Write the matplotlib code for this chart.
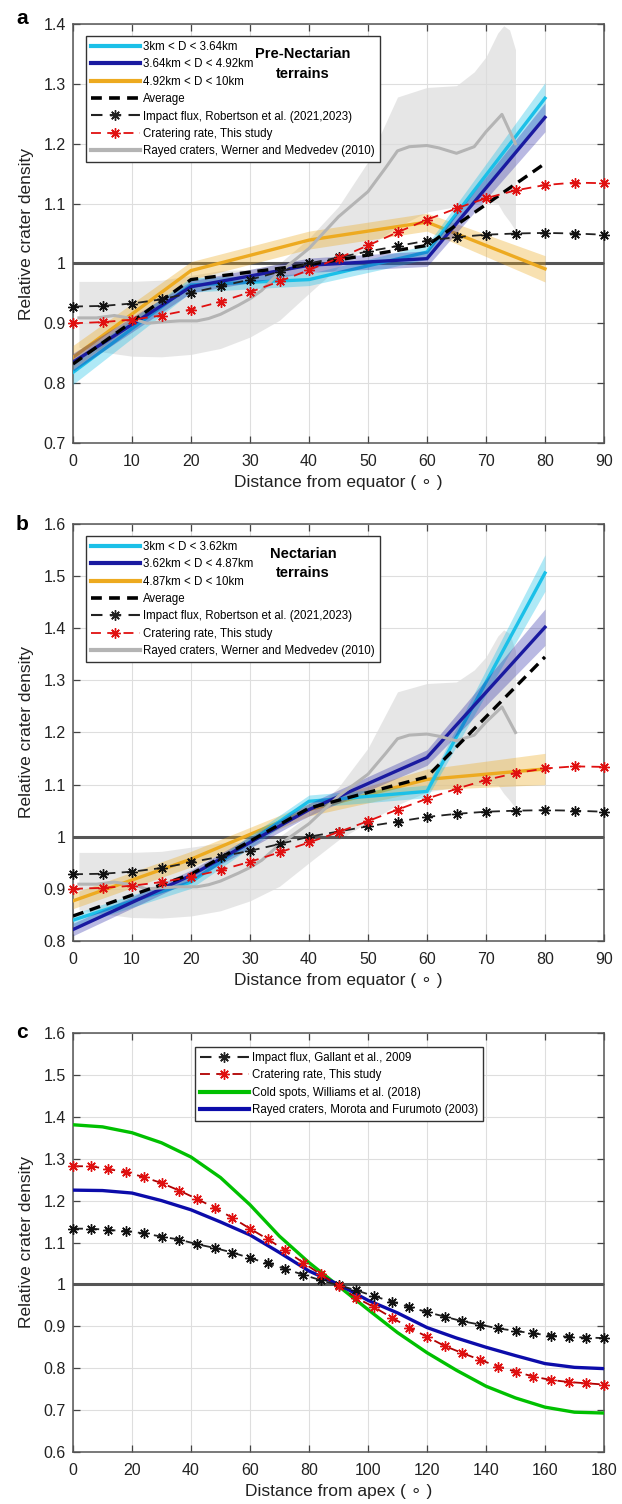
import numpy as np
import matplotlib
matplotlib.use('Agg')
import matplotlib.pyplot as plt
from matplotlib.lines import Line2D
from matplotlib.ticker import FuncFormatter

plt.rcParams['font.family'] = ['Liberation Sans', 'DejaVu Sans']

# ---------------- data ----------------
lat_bins = [0, 20, 40, 60, 80]

# panel a : Pre-Nectarian terrains
preN_small = [0.818, 0.964, 0.973, 1.019, 1.276]
preN_small_err = [0.020, 0.012, 0.010, 0.012, 0.026]
preN_mid = [0.835, 0.961, 0.997, 1.008, 1.244]
preN_mid_err = [0.015, 0.010, 0.012, 0.013, 0.024]
preN_large = [0.843, 0.988, 1.039, 1.069, 0.991]
preN_large_err = [0.020, 0.015, 0.015, 0.015, 0.022]
preN_avg = [0.832, 0.973, 0.998, 1.030, 1.167]

# panel b : Nectarian terrains
nect_small = [0.840, 0.913, 1.068, 1.087, 1.506]
nect_small_err = [0.012, 0.012, 0.012, 0.012, 0.035]
nect_mid = [0.822, 0.926, 1.052, 1.152, 1.402]
nect_mid_err = [0.012, 0.010, 0.012, 0.015, 0.035]
nect_large = [0.877, 0.957, 1.052, 1.110, 1.130]
nect_large_err = [0.015, 0.015, 0.012, 0.020, 0.030]
nect_avg = [0.848, 0.928, 1.055, 1.115, 1.345]

# model curves vs. latitude (shared by a and b)
lat_model = [0, 5, 10, 15, 20, 25, 30, 35, 40, 45, 50, 55, 60, 65, 70, 75, 80, 85, 90]
flux_robertson = [0.928, 0.929, 0.933, 0.940, 0.951, 0.962, 0.973, 0.986, 1.000, 1.010,
                  1.020, 1.029, 1.038, 1.044, 1.048, 1.050, 1.051, 1.050, 1.048]
rate_lat = [0.900, 0.902, 0.906, 0.913, 0.923, 0.936, 0.952, 0.970, 0.989, 1.009,
            1.030, 1.052, 1.073, 1.092, 1.109, 1.122, 1.131, 1.135, 1.134]

# rayed craters, Werner and Medvedev (2010)
wm_lat = [1, 4, 7, 10, 12.5, 15, 18, 21, 23, 25, 28, 30, 32, 35, 40, 45, 50, 53, 55,
          57, 60, 62, 65, 68, 70, 72.7, 75]
wm_mean = [0.909, 0.909, 0.913, 0.908, 0.900, 0.902, 0.904, 0.904, 0.908, 0.915, 0.930,
           0.941, 0.955, 0.985, 1.025, 1.078, 1.120, 1.160, 1.188, 1.195, 1.197, 1.193,
           1.184, 1.195, 1.220, 1.249, 1.200]
wm_band_lat = [1, 5, 10, 15, 20, 25, 30, 35, 40, 45, 50, 55, 60, 65, 68, 70, 72, 73, 74, 75]
wm_upper = [0.970, 0.970, 0.970, 0.972, 0.980, 0.988, 0.990, 1.000, 1.042, 1.095, 1.170,
            1.278, 1.294, 1.297, 1.320, 1.345, 1.385, 1.397, 1.390, 1.357]
wm_lower = [0.860, 0.852, 0.845, 0.844, 0.848, 0.858, 0.877, 0.905, 0.950, 0.994, 1.028,
            1.061, 1.086, 1.095, 1.100, 1.103, 1.100, 1.083, 1.070, 1.055]

# panel c : distance from apex
apex_step6 = [0, 6, 12, 18, 24, 30, 36, 42, 48, 54, 60, 66, 72, 78, 84, 90, 96, 102,
              108, 114, 120, 126, 132, 138, 144, 150, 156, 162, 168, 174, 180]
flux_gallant = [1.133, 1.133, 1.130, 1.127, 1.122, 1.114, 1.107, 1.096, 1.087, 1.076,
                1.063, 1.050, 1.037, 1.023, 1.010, 0.998, 0.986, 0.972, 0.959, 0.946,
                0.934, 0.923, 0.912, 0.904, 0.895, 0.889, 0.883, 0.878, 0.875, 0.873, 0.872]
rate_apex = [1.282, 1.282, 1.275, 1.268, 1.256, 1.242, 1.224, 1.204, 1.183, 1.159,
             1.133, 1.108, 1.081, 1.052, 1.024, 0.996, 0.968, 0.946, 0.921, 0.897,
             0.875, 0.853, 0.836, 0.820, 0.804, 0.792, 0.780, 0.772, 0.767, 0.764, 0.761]
apex_step10 = [0, 10, 20, 30, 40, 50, 60, 70, 80, 90, 100, 110, 120, 130, 140, 150, 160, 170, 180]
cold_spots = [1.381, 1.376, 1.362, 1.338, 1.304, 1.255, 1.190, 1.115, 1.052, 0.996,
              0.940, 0.885, 0.837, 0.795, 0.757, 0.729, 0.707, 0.695, 0.693]
rayed_morota = [1.225, 1.224, 1.218, 1.200, 1.178, 1.149, 1.118, 1.076, 1.032, 1.000,
                0.962, 0.932, 0.897, 0.872, 0.850, 0.830, 0.811, 0.802, 0.799]

# ---------------- style ----------------
C_CYAN = '#1BC0E8'
C_BLUE = '#1A1AA0'
C_ORANGE = '#EDAA20'
C_GRAY = '#B4B4B4'
C_BAND = '#DCDCDC'
C_RED = '#E01010'
C_GREEN = '#00C000'
C_BLUE2 = '#0C0CAA'
AST = (8, 2, 0)
MS = 7.5
MEW = 1.0
LEGFS = 8.3

fig = plt.figure(figsize=(6.22, 15.04), dpi=100)
W, H = 622.0, 1504.0


def make_ax(top, bottom):
    return fig.add_axes([73 / W, 1 - bottom / H, 531 / W, (bottom - top) / H])


def style_ax(ax, xlim, xticks, ylim, yticks, xlabel):
    ax.set_xlim(*xlim)
    ax.set_ylim(*ylim)
    ax.set_xticks(xticks)
    ax.set_yticks(yticks)
    ax.yaxis.set_major_formatter(FuncFormatter(lambda v, p: '%g' % round(v, 3)))
    ax.grid(True, color='#DEDEDE', lw=0.8, zorder=0)
    ax.set_axisbelow(True)
    ax.tick_params(direction='in', length=5, width=0.9, top=True, right=True,
                   labelsize=11.5, colors='#444444', labelcolor='#222222', pad=8)
    ax.tick_params(axis='y', pad=5)
    for s in ax.spines.values():
        s.set_color('#555555')
        s.set_linewidth(1.1)
    ax.set_ylabel('Relative crater density', fontsize=12.5, color='#222222', labelpad=7)
    ax.set_xlabel(xlabel, fontsize=12.5, color='#222222', labelpad=4)
    ax.axhline(1.0, color='#555555', lw=2.2, zorder=3)


def band_line(ax, y, err, color, alpha, z):
    y = np.asarray(y)
    e = np.asarray(err)
    ax.fill_between(lat_bins, y - e, y + e, color=color, alpha=alpha, lw=0, zorder=z)
    ax.plot(lat_bins, y, color=color, lw=2.4, zorder=z + 0.5, solid_joinstyle='miter')


def legend(ax, handles, labels, anchor):
    leg = ax.legend(handles, labels, loc='upper left', bbox_to_anchor=anchor,
                    borderaxespad=0, fontsize=LEGFS, handlelength=4.25, handletextpad=0.3,
                    labelspacing=0.47, frameon=True, fancybox=False, borderpad=0.42,
                    edgecolor='#333333', framealpha=1)
    leg.get_frame().set_linewidth(1.0)
    leg.set_zorder(20)
    return leg


def lat_panel(ax, small, small_err, mid, mid_err, large, large_err, avg, labels, title):
    ax.fill_between(wm_band_lat, wm_lower, wm_upper, color=C_BAND, alpha=0.7, lw=0, zorder=1)
    band_line(ax, large, large_err, C_ORANGE, 0.35, 4)
    band_line(ax, small, small_err, C_CYAN, 0.35, 5)
    band_line(ax, mid, mid_err, C_BLUE, 0.3, 6)
    ax.plot(wm_lat, wm_mean, color=C_GRAY, lw=2.2, zorder=7)
    ax.plot(lat_bins, avg, color='black', lw=2.4, ls=(0, (3.3, 2.0)), zorder=8)
    ax.plot(lat_model, flux_robertson, color='#222222', lw=1.3, ls=(0, (5.5, 3.5)),
            marker=AST, ms=MS, mew=MEW, mec='#111111', zorder=9, clip_on=False)
    ax.plot(lat_model, rate_lat, color=C_RED, lw=1.3, ls=(0, (5.5, 3.5)),
            marker=AST, ms=MS, mew=MEW, mec=C_RED, zorder=9, clip_on=False)
    handles = [
        Line2D([], [], color=C_CYAN, lw=3),
        Line2D([], [], color=C_BLUE, lw=3),
        Line2D([], [], color=C_ORANGE, lw=3),
        Line2D([], [], color='black', lw=2.6, ls=(0, (3.0, 2.0))),
        Line2D([], [], color='#222222', lw=1.5, ls=(0, (5.5, 3.5)), marker=AST, ms=MS, mew=MEW),
        Line2D([], [], color=C_RED, lw=1.3, ls=(0, (5.5, 3.5)), marker=AST, ms=MS, mew=MEW,
               mec=C_RED),
        Line2D([], [], color=C_GRAY, lw=3),
    ]
    legend(ax, handles, labels, (13 / 531, 1 - 12 / 419))
    ax.text(0.433, 0.905, title, transform=ax.transAxes, ha='center', va='center',
            fontsize=10.5, fontweight='bold', linespacing=1.5, zorder=21)


xlab_eq = 'Distance from equator ( ∘ )'

# ---- panel a ----
axa = make_ax(24, 443)
style_ax(axa, (0, 90), range(0, 91, 10), (0.7, 1.4), np.arange(0.7, 1.41, 0.1), xlab_eq)
lat_panel(axa, preN_small, preN_small_err, preN_mid, preN_mid_err, preN_large, preN_large_err,
          preN_avg,
          ['3km < D < 3.64km', '3.64km < D < 4.92km', '4.92km < D < 10km', 'Average',
           'Impact flux, Robertson et al. (2021,2023)', 'Cratering rate, This study',
           'Rayed craters, Werner and Medvedev (2010)'],
          'Pre-Nectarian\nterrains')

# ---- panel b ----
axb = make_ax(524, 941)
style_ax(axb, (0, 90), range(0, 91, 10), (0.8, 1.6), np.arange(0.8, 1.61, 0.1), xlab_eq)
lat_panel(axb, nect_small, nect_small_err, nect_mid, nect_mid_err, nect_large, nect_large_err,
          nect_avg,
          ['3km < D < 3.62km', '3.62km < D < 4.87km', '4.87km < D < 10km', 'Average',
           'Impact flux, Robertson et al. (2021,2023)', 'Cratering rate, This study',
           'Rayed craters, Werner and Medvedev (2010)'],
          'Nectarian\nterrains')

# ---- panel c ----
axc = make_ax(1033, 1452)
style_ax(axc, (0, 180), range(0, 181, 20), (0.6, 1.6), np.arange(0.6, 1.61, 0.1),
         'Distance from apex ( ∘ )')
axc.plot(apex_step10, cold_spots, color=C_GREEN, lw=2.4, zorder=6)
axc.plot(apex_step10, rayed_morota, color=C_BLUE2, lw=2.4, zorder=7)
axc.plot(apex_step6, flux_gallant, color='#222222', lw=1.3, ls=(0, (5.5, 3.5)),
         marker=AST, ms=MS, mew=MEW, mec='#111111', zorder=8, clip_on=False)
axc.plot(apex_step6, rate_apex, color='#B00000', lw=1.3, ls=(0, (5.5, 3.5)),
         marker=AST, ms=MS, mew=MEW, mec=C_RED, zorder=9, clip_on=False)
hc = [
    Line2D([], [], color='#222222', lw=1.5, ls=(0, (5.5, 3.5)), marker=AST, ms=MS, mew=MEW),
    Line2D([], [], color='#B00000', lw=1.3, ls=(0, (5.5, 3.5)), marker=AST, ms=MS, mew=MEW,
           mec=C_RED),
    Line2D([], [], color=C_GREEN, lw=3),
    Line2D([], [], color=C_BLUE2, lw=3),
]
legend(axc, hc, ['Impact flux, Gallant et al., 2009', 'Cratering rate, This study',
                 'Cold spots, Williams et al. (2018)',
                 'Rayed craters, Morota and Furumoto (2003)'],
       (122 / 531, 1 - 14 / 419))

# panel letters
fig.text(16 / W, 1 - 18 / H, 'a', fontsize=15, fontweight='bold', va='center', ha='left')
fig.text(16 / W, 1 - 525 / H, 'b', fontsize=15, fontweight='bold', va='center', ha='left')
fig.text(16 / W, 1 - 1033 / H, 'c', fontsize=15, fontweight='bold', va='center', ha='left')

fig.savefig('out.png', dpi=100)
